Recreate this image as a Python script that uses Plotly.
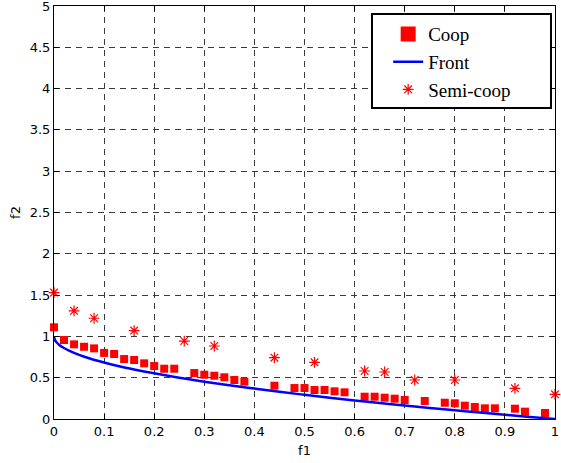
import plotly.graph_objects as go

# Coop solutions
coop_f1 = [0.00, 0.02, 0.04, 0.06, 0.08, 0.10, 0.12, 0.14, 0.16, 0.18, 0.20, 0.22, 0.24,
           0.28, 0.30, 0.32, 0.34, 0.36, 0.38, 0.44, 0.48, 0.50, 0.52, 0.54, 0.56, 0.58,
           0.62, 0.64, 0.66, 0.68, 0.70, 0.74, 0.78, 0.80, 0.82, 0.84, 0.86, 0.88,
           0.92, 0.94, 0.98]
coop_f2 = [1.11, 0.956, 0.904, 0.875, 0.855, 0.800, 0.787, 0.726, 0.714, 0.674, 0.641, 0.609, 0.609,
           0.556, 0.536, 0.524, 0.505, 0.472, 0.452, 0.403, 0.375, 0.375, 0.351, 0.351, 0.335, 0.323,
           0.270, 0.270, 0.258, 0.246, 0.230, 0.218, 0.197, 0.190, 0.161, 0.145, 0.129, 0.129,
           0.125, 0.089, 0.073]

# Pareto front
front_f1 = [0.0, 0.002, 0.005, 0.01, 0.02, 0.03, 0.05, 0.07, 0.10, 0.13, 0.16, 0.20, 0.25,
            0.30, 0.35, 0.40, 0.45, 0.50, 0.55, 0.60, 0.65, 0.70, 0.75, 0.80, 0.85, 0.90,
            0.95, 1.0]
front_f2 = [1.0, 0.955, 0.929, 0.900, 0.859, 0.827, 0.776, 0.735, 0.684, 0.639, 0.600, 0.553, 0.500,
            0.452, 0.408, 0.368, 0.329, 0.293, 0.258, 0.225, 0.194, 0.163, 0.134, 0.106, 0.078, 0.051,
            0.025, 0.0]

# Semi-coop solutions
semi_f1 = [0.00, 0.04, 0.08, 0.16, 0.26, 0.32, 0.44, 0.52, 0.62, 0.66, 0.72, 0.80, 0.92, 1.00]
semi_f2 = [1.53, 1.31, 1.22, 1.07, 0.944, 0.884, 0.742, 0.686, 0.581, 0.569, 0.472, 0.472, 0.371, 0.299]

x_ticks = [0, 0.1, 0.2, 0.3, 0.4, 0.5, 0.6, 0.7, 0.8, 0.9, 1]
x_tick_labels = ["0", "0.1", "0.2", "0.3", "0.4", "0.5", "0.6", "0.7", "0.8", "0.9", "1"]
y_ticks = [0, 0.5, 1, 1.5, 2, 2.5, 3, 3.5, 4, 4.5, 5]
y_tick_labels = ["0", "0.5", "1", "1.5", "2", "2.5", "3", "3.5", "4", "4.5", "5"]

fig = go.Figure()
fig.add_trace(go.Scatter(x=coop_f1, y=coop_f2, mode="markers", name="Coop",
                         legendgroup="coop", showlegend=False,
                         marker=dict(symbol="square", size=8, color="#ff0000",
                                     line=dict(width=0)),
                         cliponaxis=False))
# legend entry for Coop (larger swatch, as in the original legend)
fig.add_trace(go.Scatter(x=[None], y=[None], mode="markers", name="Coop",
                         legendgroup="coop",
                         marker=dict(symbol="square", size=15, color="#ff0000",
                                     line=dict(width=0))))
fig.add_trace(go.Scatter(x=front_f1, y=front_f2, mode="lines", name="Front",
                         line=dict(color="#0000ff", width=2.5, shape="spline")))
fig.add_trace(go.Scatter(x=semi_f1, y=semi_f2, mode="markers", name="Semi-coop",
                         marker=dict(symbol="asterisk-open", size=9, color="#ff0000",
                                     line=dict(color="#ff0000", width=1.2)),
                         cliponaxis=False))

axis_common = dict(
    showline=True, linecolor="black", linewidth=1, mirror="ticks",
    ticks="inside", ticklen=5, tickcolor="black", tickwidth=1,
    showgrid=True, gridcolor="#3a3a3a", gridwidth=1, griddash="6px,5px",
    zeroline=False, automargin=False, ticklabeloverflow="allow",
    tickfont=dict(family="DejaVu Sans", size=13, color="black"),
)

fig.update_xaxes(range=[0, 1], tickvals=x_ticks, ticktext=x_tick_labels,
                 title=dict(text="f1", font=dict(family="DejaVu Sans", size=13, color="black"),
                            standoff=8),
                 **axis_common)
fig.update_yaxes(range=[0, 5], tickvals=y_ticks, ticktext=y_tick_labels,
                 title=dict(text="f2", font=dict(family="DejaVu Sans", size=13, color="black"),
                            standoff=6),
                 **axis_common)

# legend frame (white box with black border)
fig.add_shape(type="rect", xref="paper", yref="paper",
              x0=0.6347, x1=0.992, y0=0.753, y1=0.9806,
              fillcolor="white", line=dict(color="black", width=2), layer="above")

fig.update_layout(
    width=561, height=463,
    margin=dict(l=54, r=6, t=6, b=44),
    plot_bgcolor="white", paper_bgcolor="white",
    showlegend=True,
    legend=dict(x=0.667, y=0.978, xanchor="left", yanchor="top",
                bgcolor="rgba(0,0,0,0)", borderwidth=0,
                font=dict(family="Liberation Serif", size=19, color="black"),
                tracegroupgap=0),
)

fig.write_html("out.html",
               config={"displayModeBar": False},
               post_script="document.body.style.margin='0';document.body.style.overflow='hidden';")
